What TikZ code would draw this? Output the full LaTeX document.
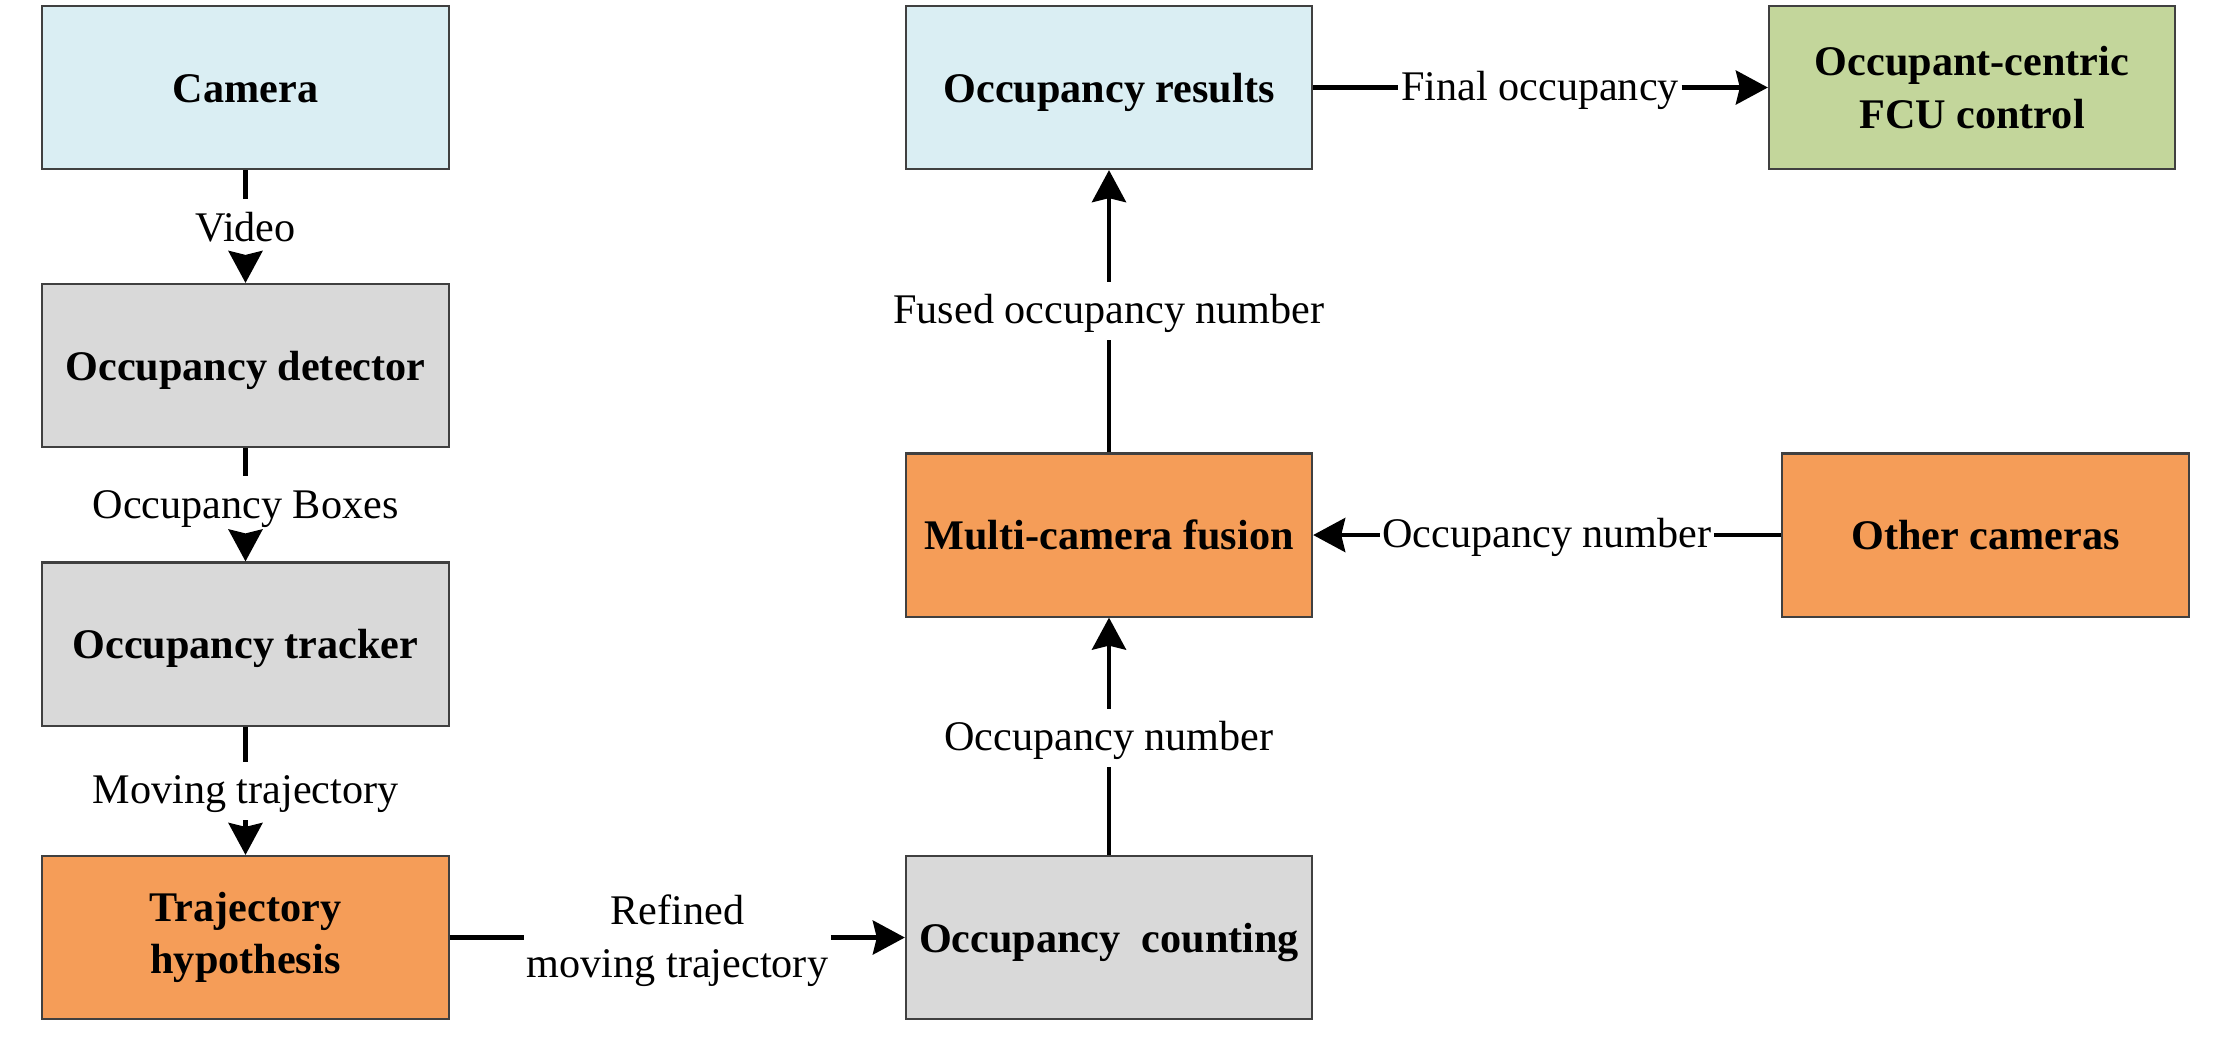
\documentclass[tikz,border=0pt]{standalone}
\usepackage{fontspec}
\setmainfont{Liberation Serif}
\usetikzlibrary{arrows.meta}
\definecolor{boxblue}{HTML}{DAEEF3}
\definecolor{boxgray}{HTML}{D9D9D9}
\definecolor{boxorange}{HTML}{F59D58}
\definecolor{boxgreen}{HTML}{C3D69B}
\definecolor{boxline}{HTML}{404040}
\begin{document}
\begin{tikzpicture}[x=0.01cm,y=-0.01cm,
  box/.style={draw=boxline, line width=0.6pt, minimum width=4.06cm, minimum height=1.63cm,
    inner sep=0pt, align=center, font=\fontsize{12}{14.9}\selectfont\bfseries},
  box1/.style={box, text height=0.38cm, text depth=0.09cm},
  lab/.style={inner xsep=0.02cm, inner ysep=0.07cm, text height=0.34cm, text depth=0.09cm,
    font=\fontsize{12}{14.5}\selectfont},
  lab2/.style={inner xsep=0.02cm, inner ysep=0.07cm, align=center,
    font=\fontsize{12}{15}\selectfont},
  conn/.style={line width=1.2pt},
  arr/.style={conn, -{Stealth[length=0.32cm,width=0.34cm,inset=0.04cm]}}
]
\useasboundingbox (0,0) rectangle (2239,1062);

% boxes
\node[box1, fill=boxblue]   (camera)  at (245.5,87.5)  {Camera};
\node[box1, fill=boxgray]   (det)     at (245.5,365.5) {Occupancy detector};
\node[box1, fill=boxgray]   (trk)     at (245.5,644)   {Occupancy tracker};
\node[box,  fill=boxorange] (hyp)     at (245.5,937.5) {Trajectory\\hypothesis};
\node[box1, fill=boxblue]   (results) at (1109,87.5)   {Occupancy results};
\node[box1, fill=boxorange] (multi)   at (1109,535)    {Multi-camera fusion};
\node[box1, fill=boxgray]   (count)   at (1109,937.5)  {Occupancy~~counting};
\node[box,  fill=boxgreen]  (fcu)     at (1972,87.5)   {Occupant-centric\\FCU control};
\node[box1, fill=boxorange] (other)   at (1985.5,535)  {Other cameras};

% labels
\node[lab] (lvideo) at (245.5,228.5) {Video};
\node[lab] (lboxes) at (245.5,505.5) {Occupancy Boxes};
\node[lab] (lmove)  at (245.5,791)   {Moving trajectory};
\node[lab2] (lref)  at (677.5,940.5) {Refined\\moving trajectory};
\node[lab] (lnum)   at (1109,738)    {Occupancy number};
\node[lab] (lfused) at (1109,311)    {Fused occupancy number};
\node[lab] (lfinal) at (1540,87.5)   {Final occupancy};
\node[lab] (lother) at (1547,535)    {Occupancy number};

% connectors
\draw[conn] (camera) -- (lvideo);  \draw[arr] (lvideo) -- (det);
\draw[conn] (det) -- (lboxes);     \draw[arr] (lboxes) -- (trk);
\draw[conn] (trk) -- (lmove);      \draw[arr] (lmove) -- (hyp);
\draw[conn] (hyp.east) -- (hyp.east -| lref.west);
\draw[arr] (hyp.east -| lref.east) -- (count.west);
\draw[conn] (count) -- (lnum);     \draw[arr] (lnum) -- (multi);
\draw[conn] (multi) -- (lfused);   \draw[arr] (lfused) -- (results);
\draw[conn] (results) -- (lfinal); \draw[arr] (lfinal) -- (fcu);
\draw[conn] (other) -- (lother);   \draw[arr] (lother) -- (multi);
\end{tikzpicture}
\end{document}
